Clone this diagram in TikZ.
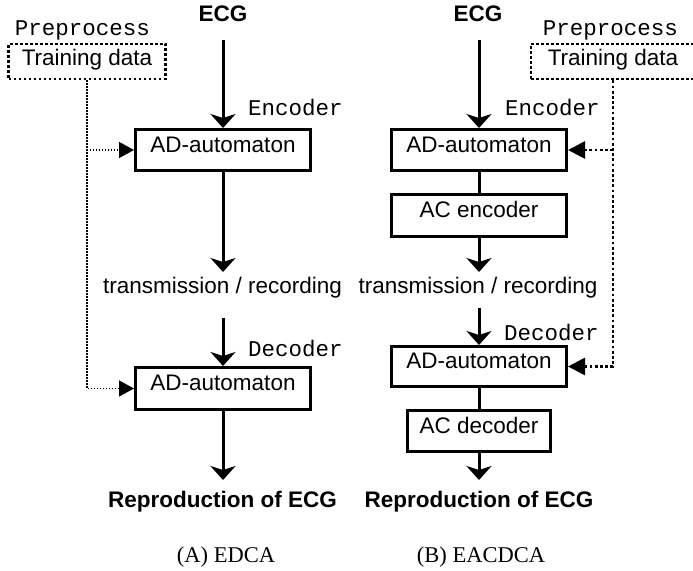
\documentclass[tikz,border=0pt]{standalone}
\usepackage{fontspec}
\setmainfont{Liberation Sans}
\newfontfamily\serifA{Liberation Serif}
\newfontfamily\monoA{Liberation Mono}
\usetikzlibrary{arrows.meta}
\begin{document}
\begin{tikzpicture}[x=1pt,y=-1pt,
  every node/.style={font=\fontsize{22.5}{27}\selectfont},
  lbl/.style={inner sep=0pt, anchor=base},
  boldlbl/.style={lbl, font=\fontsize{22.5}{27}\selectfont\bfseries},
  monolbl/.style={inner sep=0pt, anchor=base west, font=\fontsize{22.5}{27}\selectfont\monoA},
  captext/.style={lbl, font=\fontsize{22.5}{27}\selectfont\serifA},
  blockbox/.style={draw, line width=3pt, inner sep=0pt, text height=16pt, text depth=12pt,
              minimum width=175pt, minimum height=41pt},
  trainbox/.style={draw, line width=2.6pt, dash pattern=on 2.6pt off 2.4pt, inner sep=0pt,
              text height=16pt, text depth=8pt, minimum width=157pt, minimum height=35pt},
  arrline/.style={line width=3pt, -{Stealth[length=14pt,width=25pt,inset=4pt]}},
  joinline/.style={line width=3pt},
  dotthin/.style={line width=1.3pt, dash pattern=on 1.4pt off 1.6pt, -{Triangle[length=15pt,width=16pt]}},
  dotthick/.style={line width=2.8pt, dash pattern=on 2.8pt off 2.4pt, -{Triangle[length=17pt,width=17pt]}}
]
\useasboundingbox (0,0) rectangle (693,570);

% ---------- (A) EDCA ----------
\node[boldlbl] (ecgA) at (223,21) {ECG};
\node[monolbl, anchor=base] (preA) at (82.5,35) {Preprocess};
\node[trainbox] (trainA) at (87,61.5) {Training data};
\node[monolbl] (encA) at (248,115) {Encoder};
\node[blockbox] (adA1) at (223,150) {AD-automaton};
\node[lbl] (transA) at (222.5,293) {transmission / recording};
\node[monolbl] (decA) at (248,356) {Decoder};
\node[blockbox, minimum height=42pt] (adA2) at (223,388.5) {AD-automaton};
\node[boldlbl] (repA) at (222.5,507) {Reproduction of ECG};
\node[captext] (capA) at (226,562) {(A) EDCA};

\draw[arrline] ([yshift=-19pt]ecgA.base) -- (adA1.north);
\draw[arrline] (adA1.south) -- ([yshift=21pt]transA.base -| adA1.south);
\draw[arrline] ([yshift=-25pt]transA.base -| adA2.north) -- (adA2.north);
\draw[arrline] (adA2.south) -- ([yshift=27pt]repA.base -| adA2.south);
\draw[dotthin] (trainA.south) |- (adA2.west);
\draw[dotthin] (trainA.south |- adA1.west) -- (adA1.west);

% ---------- (B) EACDCA ----------
\node[boldlbl] (ecgB) at (478,21) {ECG};
\node[monolbl, anchor=base] (preB) at (610.5,35) {Preprocess};
\node[trainbox, minimum width=164pt] (trainB) at (613,61.5) {Training data};
\node[monolbl] (encB) at (505,115) {Encoder};
\node[blockbox] (adB1) at (479,150) {AD-automaton};
\node[blockbox, minimum height=42pt] (acenc) at (479,215.5) {AC encoder};
\node[lbl] (transB) at (478,293) {transmission / recording};
\node[monolbl] (decB) at (504,340) {Decoder};
\node[blockbox, minimum height=40pt] (adB2) at (479,366.5) {AD-automaton};
\node[blockbox, minimum width=143pt] (acdec) at (479,431) {AC decoder};
\node[boldlbl] (repB) at (479,507) {Reproduction of ECG};
\node[captext] (capB) at (481,562) {(B) EACDCA};

\draw[arrline] ([yshift=-19pt]ecgB.base -| adB1.north) -- (adB1.north);
\draw[joinline] (adB1.south) -- (acenc.north);
\draw[arrline] (acenc.south) -- ([yshift=21pt]transB.base -| acenc.south);
\draw[arrline] ([yshift=-15pt]transB.base -| adB2.north) -- (adB2.north);
\draw[joinline] (adB2.south) -- (acdec.north);
\draw[arrline] (acdec.south) -- ([yshift=27pt]repB.base -| acdec.south);
\draw[dotthick] (trainB.south) |- (adB2.east);
\draw[dotthick] (trainB.south |- adB1.east) -- (adB1.east);
\end{tikzpicture}
\end{document}
